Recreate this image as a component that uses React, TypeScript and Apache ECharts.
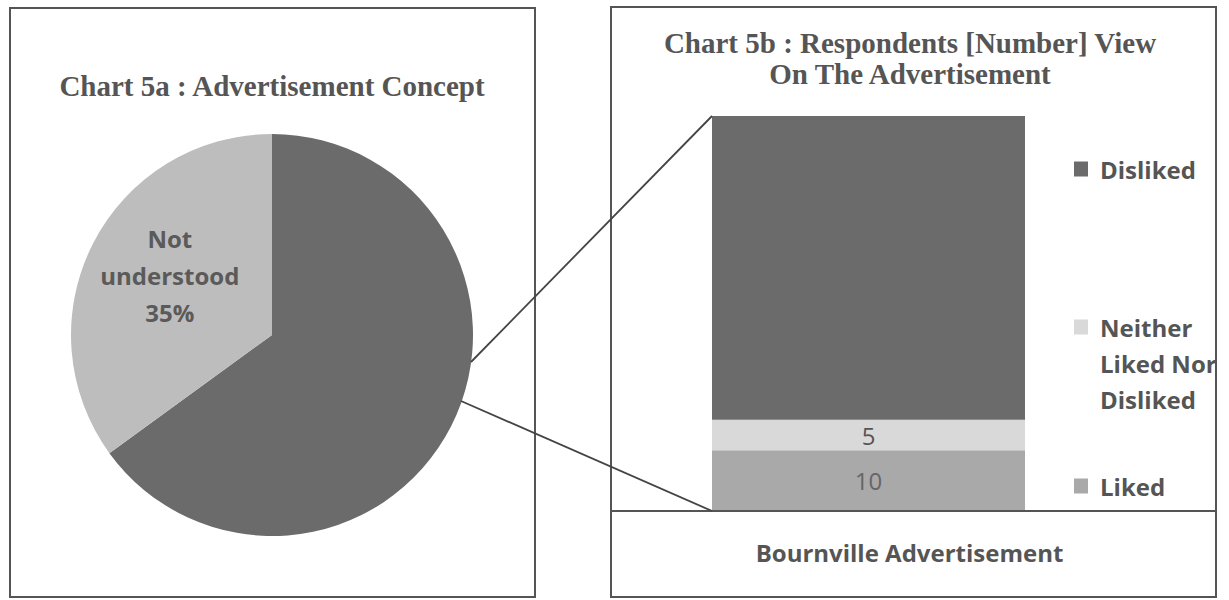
import React, { useEffect, useRef } from 'react';
import * as echarts from 'echarts';

// ---- data ----
const pieCategories = ['Understood', 'Not understood'];
const pieValues = [65, 35];
const barCategories = ['Bournville Advertisement'];
const barSeriesNames = ['Liked', 'Neither Liked Nor Disliked', 'Disliked'];
const likedValues = [10];
const neitherValues = [5];
const dislikedValues = [50];
const titleA = 'Chart 5a : Advertisement Concept';
const titleB = 'Chart 5b : Respondents [Number] View\nOn The Advertisement';

// ---- style ----
const SANS = '"Open Sans", "Noto Sans", sans-serif';
const SERIF = '"Liberation Serif", "Times New Roman", serif';
const TEXT = '#555555';
const DARK = '#6b6b6b';
const PIE_LIGHT = '#bdbdbd';
const NEITHER = '#d9d9d9';
const LIKED = '#a9a9a9';
const BORDER = '#555555';

const legendText = {
  fontFamily: SANS,
  fontWeight: 'bold' as const,
  fontSize: 24,
  lineHeight: 36,
  color: TEXT,
  padding: [0, 0, 0, 7],
};

const legendBase = {
  orient: 'vertical' as const,
  left: 1074,
  padding: 0,
  itemWidth: 14,
  itemHeight: 15,
  icon: 'rect',
  selectedMode: false,
  textStyle: legendText,
};

export default function App() {
  const ref = useRef<HTMLDivElement>(null);

  useEffect(() => {
    if (!ref.current) return;
    const chart = echarts.init(ref.current, undefined, { renderer: 'svg' });
    const pieColors = [DARK, PIE_LIGHT];
    const barColors = [LIKED, NEITHER, DARK];
    const barValues = [likedValues, neitherValues, dislikedValues];
    const showLabel = [true, true, false];

    chart.setOption({
      animation: false,
      backgroundColor: '#ffffff',
      title: [
        {
          text: titleA,
          left: 272,
          top: 71,
          textAlign: 'center',
          padding: 0,
          textStyle: { fontFamily: SERIF, fontWeight: 'bold', fontSize: 29, lineHeight: 29, color: TEXT },
        },
        {
          text: titleB,
          left: 910,
          top: 27,
          textAlign: 'center',
          padding: 0,
          textStyle: { fontFamily: SERIF, fontWeight: 'bold', fontSize: 29, lineHeight: 31, color: TEXT },
        },
      ],
      legend: [
        { ...legendBase, data: ['Disliked'], top: 151 },
        {
          ...legendBase,
          data: ['Neither Liked Nor Disliked'],
          top: 237,
          formatter: () => '\n\nNeither\nLiked Nor\nDisliked',
        },
        { ...legendBase, data: ['Liked'], top: 468 },
      ],
      grid: { left: 712, top: 116, width: 313, height: 395, containLabel: false },
      xAxis: {
        type: 'category',
        data: barCategories,
        axisLine: { show: false },
        axisTick: { show: false },
        splitLine: { show: false },
        axisLabel: {
          margin: 41,
          verticalAlign: 'middle',
          fontFamily: SANS,
          fontWeight: 'bold',
          fontSize: 24,
          color: TEXT,
          padding: [0, 0, 0, 82],
        },
      },
      yAxis: { type: 'value', min: 0, max: 65, show: false },
      series: [
        {
          type: 'pie',
          center: [272, 335],
          radius: 201,
          startAngle: 90,
          clockwise: true,
          silent: true,
          emphasis: { disabled: true },
          labelLine: { show: false },
          data: pieCategories.map((name, i) => ({
            name,
            value: pieValues[i],
            itemStyle: { color: pieColors[i] },
            label: {
              show: i === 1,
              position: 'inside',
              offset: [-10, -13],
              formatter: (p: any) => `${p.name.replace(' ', '\n')}\n${Math.round(p.percent)}%`,
              fontFamily: SANS,
              fontWeight: 'bold',
              fontSize: 24,
              lineHeight: 37,
              color: '#5a5a5a',
            },
          })),
        },
        ...barSeriesNames.map((name, i) => ({
          type: 'bar',
          name,
          stack: 'total',
          barCategoryGap: '0%',
          silent: true,
          itemStyle: { color: barColors[i] },
          label: {
            show: showLabel[i],
            position: 'inside',
            fontFamily: SANS,
            fontSize: 24,
            color: i === 0 ? '#666666' : TEXT,
          },
          data: barValues[i],
        })),
      ],
      graphic: [
        { type: 'rect', z: 50, shape: { x: 1217, y: 0, width: 12, height: 600 }, style: { fill: '#ffffff' } },
        { type: 'rect', z: 60, shape: { x: 10, y: 8, width: 525, height: 589 }, style: { fill: 'none', stroke: BORDER, lineWidth: 2 } },
        { type: 'rect', z: 60, shape: { x: 611, y: 7, width: 605, height: 590 }, style: { fill: 'none', stroke: BORDER, lineWidth: 2 } },
        { type: 'line', z: 60, shape: { x1: 611, y1: 511, x2: 1216, y2: 511 }, style: { stroke: BORDER, lineWidth: 2 } },
        { type: 'line', z: 60, shape: { x1: 471, y1: 362, x2: 712, y2: 116 }, style: { stroke: '#444444', lineWidth: 1.8 } },
        { type: 'line', z: 60, shape: { x1: 461, y1: 401, x2: 712, y2: 511 }, style: { stroke: '#444444', lineWidth: 1.8 } },
      ],
    });
    return () => chart.dispose();
  }, []);

  return (
    <div
      ref={ref}
      style={{ position: 'absolute', left: 0, top: 0, width: 1229, height: 600 }}
    />
  );
}
